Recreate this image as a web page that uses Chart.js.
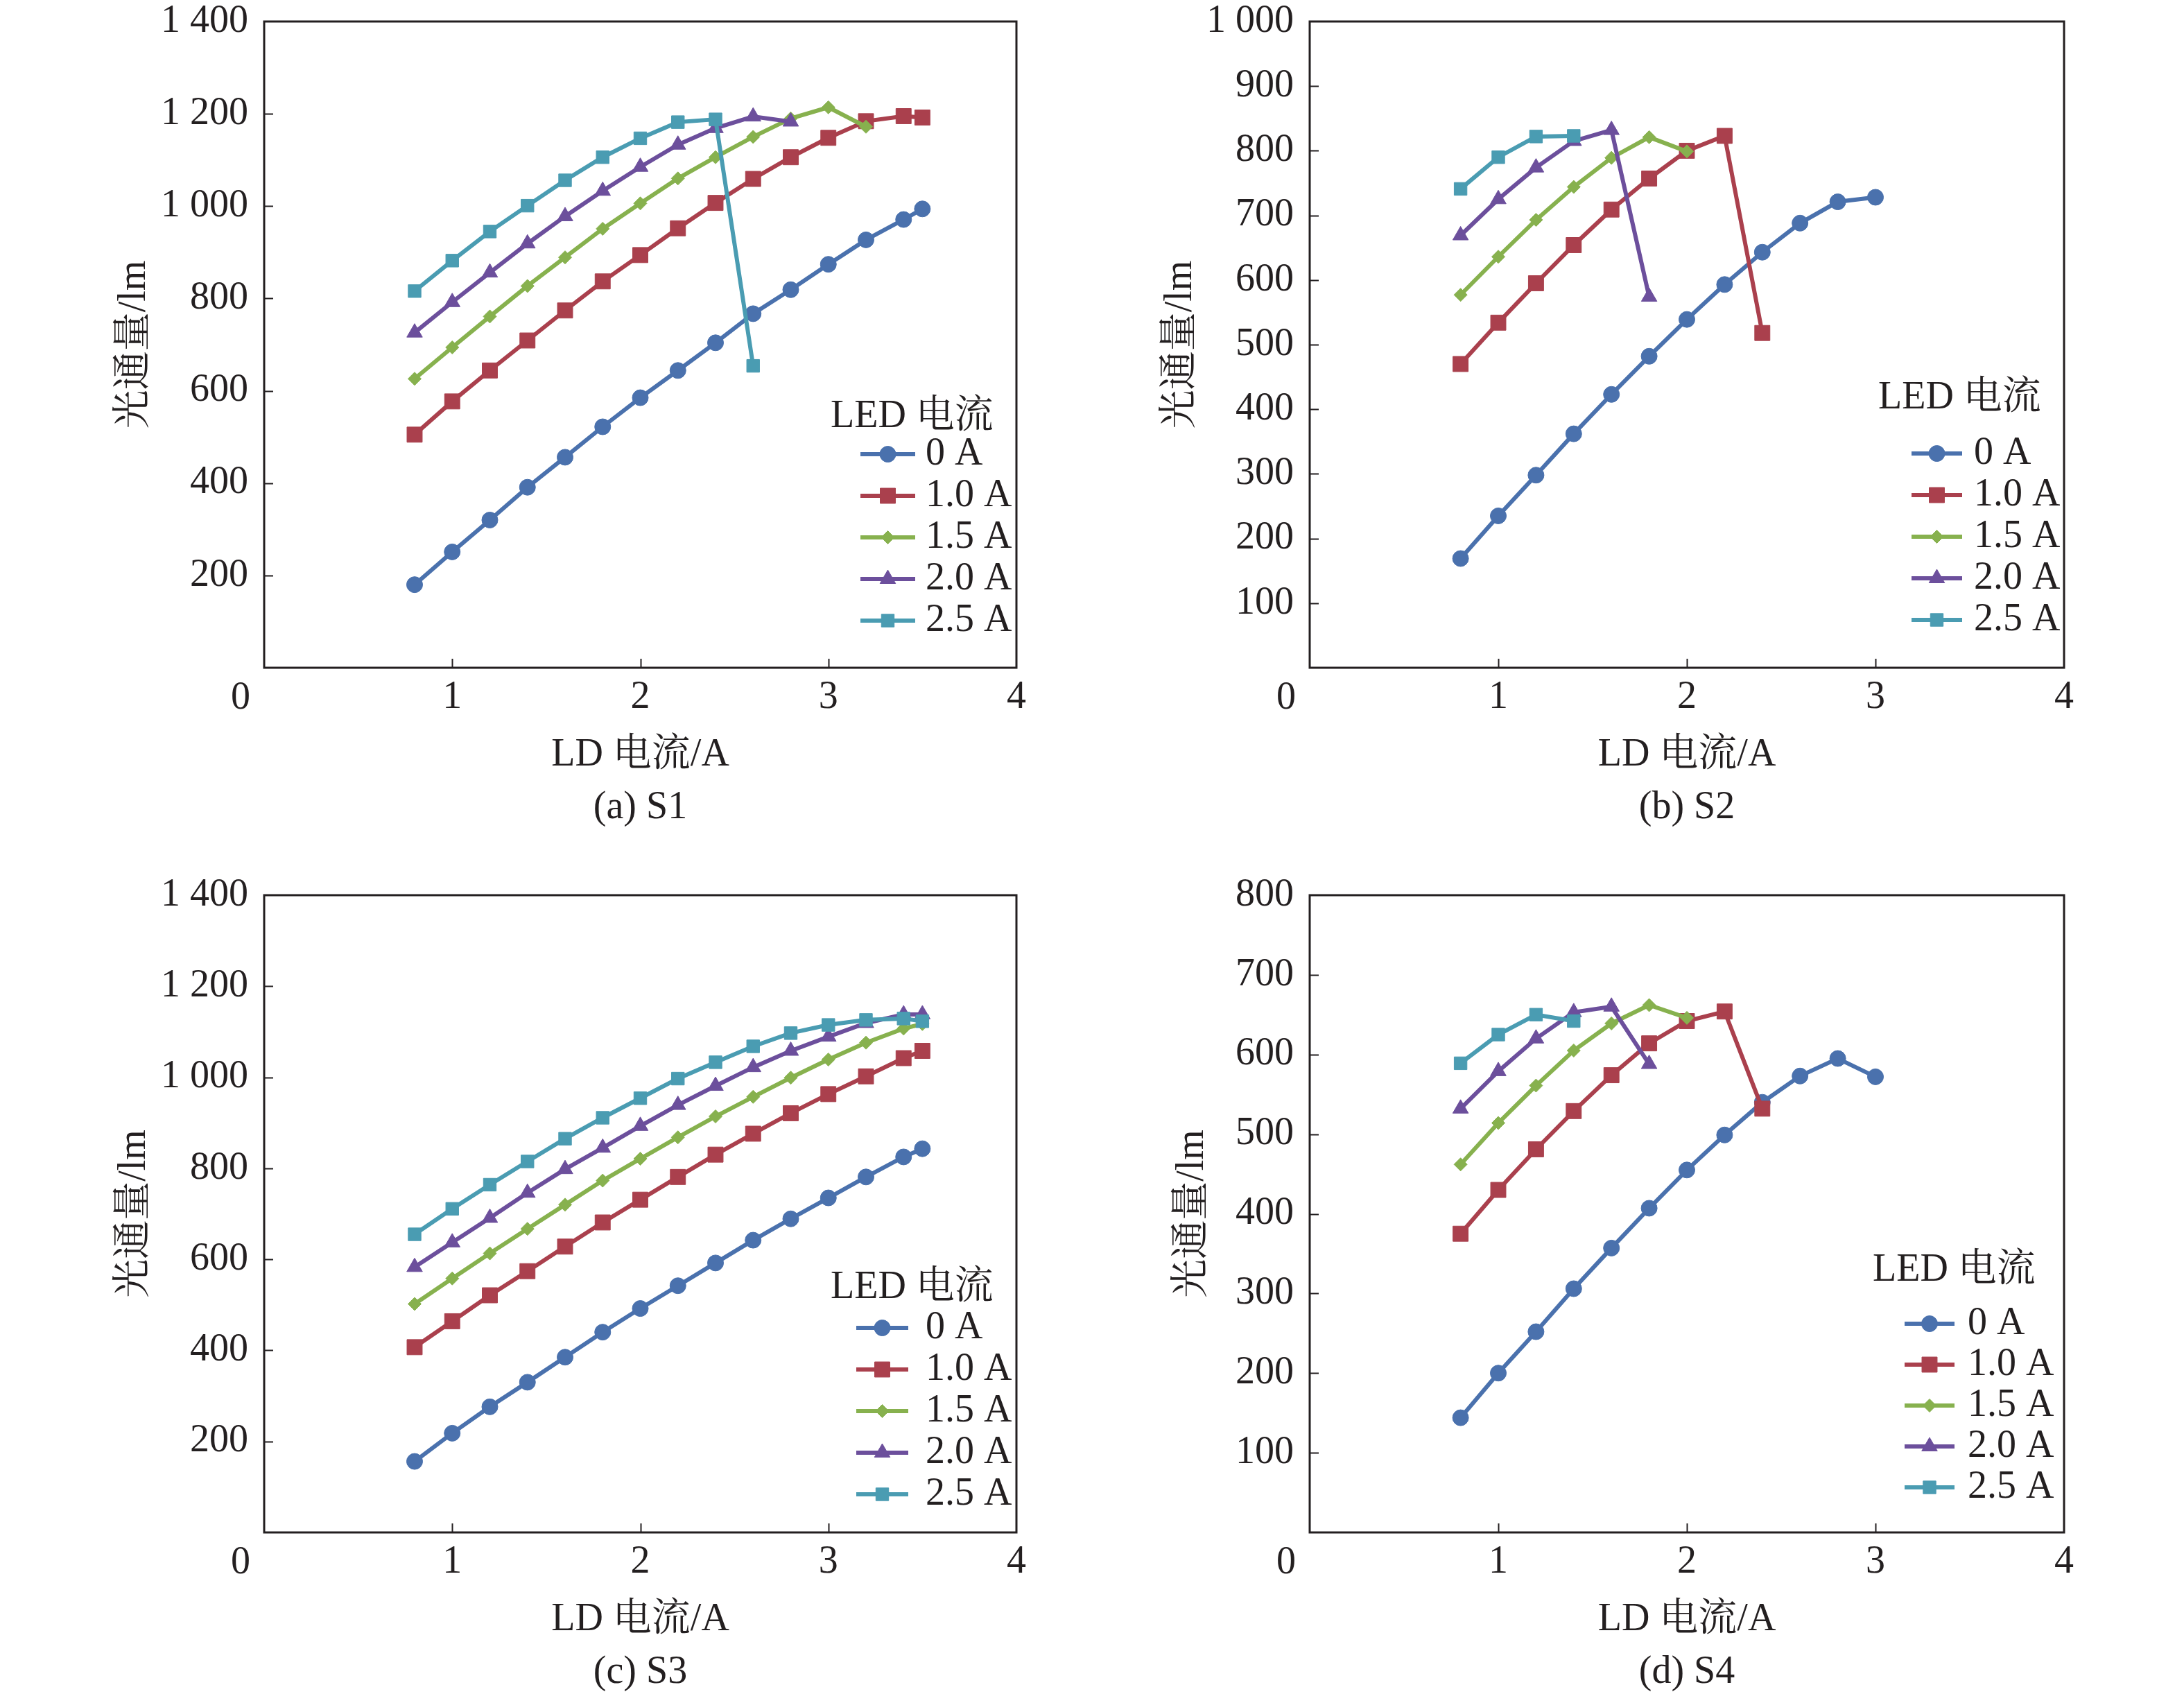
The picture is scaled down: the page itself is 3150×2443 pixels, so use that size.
<!DOCTYPE html>
<html lang="zh-CN">
<head>
<meta charset="utf-8">
<title>光通量与 LD 电流</title>
<script src="https://cdn.jsdelivr.net/npm/chart.js@4.4.1/dist/chart.umd.min.js"></script>
<style>
    html, body { margin: 0; padding: 0; background: #fff; }
    body { width: 3150px; height: 2443px; position: relative; overflow: hidden; }
    .panel { position: absolute; }
    .caption {
        position: absolute;
        transform: translate(-50%, -50%);
        white-space: nowrap;
        color: #231f20;
        font: 56px 'Liberation Serif', 'Noto Serif CJK SC', 'Noto Sans CJK SC', serif;
    }
</style>
</head>
<body>
<div class="panel" id="panel-a"><canvas id="chart-a"></canvas></div>
<div class="panel" id="panel-b"><canvas id="chart-b"></canvas></div>
<div class="panel" id="panel-c"><canvas id="chart-c"></canvas></div>
<div class="panel" id="panel-d"><canvas id="chart-d"></canvas></div>
<div class="caption" id="caption-a"></div>
<div class="caption" id="caption-b"></div>
<div class="caption" id="caption-c"></div>
<div class="caption" id="caption-d"></div>

<script>
// Eje X: corriente del LD (A)
const ldCurrent = [0.8, 1.0, 1.2, 1.4, 1.6, 1.8, 2.0, 2.2, 2.4, 2.6, 2.8, 3.0, 3.2, 3.4, 3.5];
const ledCurrent = ['0 A', '1.0 A', '1.5 A', '2.0 A', '2.5 A'];
const legendTitle = 'LED 电流';
const xTitle = 'LD 电流/A';
const yTitle = '光通量/lm';
const xTickValues = [0, 1, 2, 3, 4];

// (a) S1
const s1Led0 = [180, 251, 320, 391, 456, 522, 585, 644, 704, 767, 819, 874, 927, 971, 994];
const s1Led10 = [505, 577, 644, 709, 774, 837, 894, 952, 1007, 1059, 1106, 1148, 1184, 1195, 1192];
const s1Led15 = [626, 694, 761, 827, 889, 951, 1006, 1060, 1106, 1150, 1190, 1214, 1172];
const s1Led20 = [726, 792, 856, 919, 978, 1033, 1085, 1133, 1169, 1194, 1183];
const s1Led25 = [816, 882, 945, 1001, 1056, 1106, 1147, 1182, 1188, 654];

// (b) S2
const s2Led0 = [169, 235, 298, 362, 423, 482, 539, 593, 643, 688, 721, 728];
const s2Led10 = [470, 534, 595, 654, 709, 757, 800, 823, 518];
const s2Led15 = [577, 636, 693, 744, 789, 821, 799];
const s2Led20 = [669, 725, 774, 815, 832, 574];
const s2Led25 = [741, 790, 822, 823];

// (c) S3
const s3Led0 = [156, 218, 276, 330, 385, 440, 492, 542, 592, 642, 689, 735, 781, 825, 843];
const s3Led10 = [407, 464, 521, 574, 628, 681, 731, 781, 830, 876, 921, 963, 1002, 1042, 1058];
const s3Led15 = [502, 558, 613, 667, 720, 773, 821, 868, 914, 957, 999, 1039, 1076, 1107, 1117];
const s3Led20 = [583, 637, 691, 746, 798, 845, 893, 939, 981, 1022, 1058, 1089, 1119, 1138, 1138];
const s3Led25 = [655, 711, 764, 815, 865, 911, 954, 997, 1033, 1068, 1097, 1115, 1126, 1129, 1123];

// (d) S4
const s4Led0 = [144, 200, 252, 306, 357, 407, 455, 499, 540, 573, 595, 572];
const s4Led10 = [375, 430, 481, 529, 574, 614, 642, 654, 532];
const s4Led15 = [462, 514, 561, 605, 639, 662, 646];
const s4Led20 = [532, 579, 620, 653, 660, 588];
const s4Led25 = [589, 625, 650, 642];

// Estilos de las series
const seriesStyle = [
    { color: '#4A71AD', point: 'circle', radius: 11.5 },
    { color: '#AA404D', point: 'rect', radius: 15.5 },
    { color: '#87B14E', point: 'rectRot', radius: 9.5 },
    { color: '#6C4F9C', point: 'triangle', radius: 13 },
    { color: '#4A9CB2', point: 'rect', radius: 13 }
];

const INK = '#231f20';
const FONT_FAMILY = "'Liberation Serif', 'Noto Serif CJK SC', 'Noto Sans CJK SC', serif";
const FONT_SIZE = 56;

Chart.defaults.font.family = FONT_FAMILY;
Chart.defaults.font.size = FONT_SIZE;
Chart.defaults.color = INK;

// "1 400" con espacio como separador de miles
function formatThousands(v) {
    if (v >= 1000) {
        return Math.floor(v / 1000) + ' ' + String(v % 1000).padStart(3, '0');
    }
    return String(v);
}

// Marco completo, marcas hacia dentro y el "0" de la esquina
const frameTicks = {
    id: 'frameTicks',
    beforeDatasetsDraw(chart) {
        const { ctx, chartArea: { left, right, top, bottom }, scales: { x, y } } = chart;
        ctx.save();
        ctx.strokeStyle = INK;
        ctx.lineWidth = 2;
        ctx.beginPath();
        x.ticks.forEach(t => {
            if (t.value <= x.min || t.value >= x.max) return;
            const px = Math.round(x.getPixelForValue(t.value)) + 0.5;
            ctx.moveTo(px, bottom);
            ctx.lineTo(px, bottom - 13);
        });
        y.ticks.forEach(t => {
            if (t.value <= y.min || t.value >= y.max) return;
            const py = Math.round(y.getPixelForValue(t.value)) + 0.5;
            ctx.moveTo(left, py);
            ctx.lineTo(left + 13, py);
        });
        ctx.stroke();
        ctx.lineWidth = 3;
        ctx.strokeRect(left, top, right - left, bottom - top);

        ctx.fillStyle = INK;
        ctx.font = FONT_SIZE + 'px ' + FONT_FAMILY;
        ctx.textAlign = 'center';
        ctx.textBaseline = 'middle';
        ctx.fillText('0', left - 34, bottom + 44);
        ctx.restore();
    }
};

// Leyenda dibujada dentro del área del gráfico
const ledLegend = {
    id: 'ledLegend',
    afterDraw(chart, args, opts) {
        const { ctx, chartArea: { right, top } } = chart;
        ctx.save();
        ctx.font = FONT_SIZE + 'px ' + FONT_FAMILY;
        ctx.fillStyle = INK;
        ctx.textAlign = 'left';
        ctx.textBaseline = 'middle';
        ctx.fillText(legendTitle, right + opts.titleX, top + opts.titleY);

        chart.data.datasets.forEach((ds, i) => {
            const yy = top + opts.itemY + i * opts.step;
            const x0 = right + opts.lineX0;
            const x1 = right + opts.lineX1;
            ctx.strokeStyle = ds.borderColor;
            ctx.lineWidth = ds.borderWidth;
            ctx.beginPath();
            ctx.moveTo(x0, yy);
            ctx.lineTo(x1, yy);
            ctx.stroke();

            ctx.fillStyle = ds.pointBackgroundColor;
            ctx.strokeStyle = ds.pointBorderColor;
            ctx.lineWidth = 1;
            if (Chart.helpers && Chart.helpers.drawPoint) {
                Chart.helpers.drawPoint(ctx, {
                    pointStyle: ds.pointStyle,
                    radius: ds.pointRadius,
                    rotation: 0,
                    borderWidth: 1
                }, (x0 + x1) / 2, yy);
            } else {
                ctx.beginPath();
                ctx.arc((x0 + x1) / 2, yy, ds.pointRadius * 0.8, 0, Math.PI * 2);
                ctx.fill();
            }

            ctx.fillStyle = INK;
            ctx.fillText(ds.label, right + opts.textX, yy);
        });
        ctx.restore();
    }
};

function buildDatasets(series) {
    return series.map((values, i) => {
        const st = seriesStyle[i];
        return {
            label: ledCurrent[i],
            data: values.map((v, k) => ({ x: ldCurrent[k], y: v })),
            borderColor: st.color,
            backgroundColor: st.color,
            pointBackgroundColor: st.color,
            pointBorderColor: st.color,
            pointBorderWidth: 1,
            pointStyle: st.point,
            pointRadius: st.radius,
            borderWidth: 6,
            tension: 0,
            order: series.length - i
        };
    });
}

// Paneles: caja del contenedor [x, y, w, h] y área del gráfico [izq, arriba, der, abajo]
const panels = [
    {
        key: 'a', caption: '(a) S1',
        series: [s1Led0, s1Led10, s1Led15, s1Led20, s1Led25],
        yMax: 1400, yStep: 200,
        box: [0, 0, 1575, 1221], area: [381, 31, 1466, 963],
        yTitleOffset: 194,
        legend: { titleX: -268, titleY: 570, itemY: 624, step: 60, lineX0: -225, lineX1: -146, textX: -131 }
    },
    {
        key: 'b', caption: '(b) S2',
        series: [s2Led0, s2Led10, s2Led15, s2Led20, s2Led25],
        yMax: 1000, yStep: 100,
        box: [1575, 0, 1575, 1221], area: [1889, 31, 2977, 963],
        yTitleOffset: 128,
        legend: { titleX: -268, titleY: 543, itemY: 623, step: 60, lineX0: -220, lineX1: -147, textX: -130 }
    },
    {
        key: 'c', caption: '(c) S3',
        series: [s3Led0, s3Led10, s3Led15, s3Led20, s3Led25],
        yMax: 1400, yStep: 200,
        box: [0, 1221, 1575, 1222], area: [381, 1291, 1466, 2210],
        yTitleOffset: 194,
        legend: { titleX: -268, titleY: 566, itemY: 624, step: 60, lineX0: -231, lineX1: -156, textX: -131 }
    },
    {
        key: 'd', caption: '(d) S4',
        series: [s4Led0, s4Led10, s4Led15, s4Led20, s4Led25],
        yMax: 800, yStep: 100,
        box: [1575, 1221, 1575, 1222], area: [1889, 1291, 2977, 2210],
        yTitleOffset: 145,
        legend: { titleX: -276, titleY: 541, itemY: 618, step: 59, lineX0: -230, lineX1: -158, textX: -139 }
    }
];

function createPanel(p) {
    const [bx, by, bw, bh] = p.box;
    const [L, T, R, B] = p.area;
    const div = document.getElementById('panel-' + p.key);
    div.style.left = bx + 'px';
    div.style.top = by + 'px';
    div.style.width = bw + 'px';
    div.style.height = bh + 'px';

    const xAxisHeight = by + bh - B;
    const titleHalf = FONT_SIZE * 1.2 / 2;

    new Chart(document.getElementById('chart-' + p.key), {
        type: 'line',
        data: { datasets: buildDatasets(p.series) },
        options: {
            responsive: true,
            maintainAspectRatio: false,
            devicePixelRatio: 1,
            animation: false,
            layout: { padding: { top: T - by, right: bx + bw - R, left: 0, bottom: 0 } },
            plugins: {
                legend: { display: false },
                tooltip: { enabled: false },
                ledLegend: p.legend
            },
            scales: {
                x: {
                    type: 'linear',
                    min: 0, max: 4,
                    afterBuildTicks: s => { s.ticks = xTickValues.map(v => ({ value: v })); },
                    grid: { display: false, drawTicks: false },
                    border: { display: false },
                    ticks: {
                        padding: 10,
                        maxRotation: 0,
                        callback: v => (v === 0 ? '' : String(v))
                    },
                    title: {
                        display: true,
                        text: xTitle,
                        padding: { top: 0, bottom: xAxisHeight - 126 - titleHalf }
                    },
                    afterFit: s => {
                        s.height = xAxisHeight;
                        s.paddingLeft = 0; s.paddingRight = 0;
                    }
                },
                y: {
                    type: 'linear',
                    min: 0, max: p.yMax,
                    ticks: {
                        stepSize: p.yStep,
                        padding: 23,
                        callback: v => (v === 0 ? '' : formatThousands(v))
                    },
                    grid: { display: false, drawTicks: false },
                    border: { display: false },
                    title: {
                        display: true,
                        text: yTitle,
                        padding: { top: p.yTitleOffset - titleHalf, bottom: 0 }
                    },
                    afterFit: s => {
                        s.width = L - bx;
                        s.paddingTop = 0; s.paddingBottom = 0;
                    }
                }
            }
        },
        plugins: [frameTicks, ledLegend]
    });

    const cap = document.getElementById('caption-' + p.key);
    cap.textContent = p.caption;
    cap.style.left = ((L + R) / 2) + 'px';
    cap.style.top = (B + 198) + 'px';
}

panels.forEach(createPanel);
</script>
</body>
</html>
